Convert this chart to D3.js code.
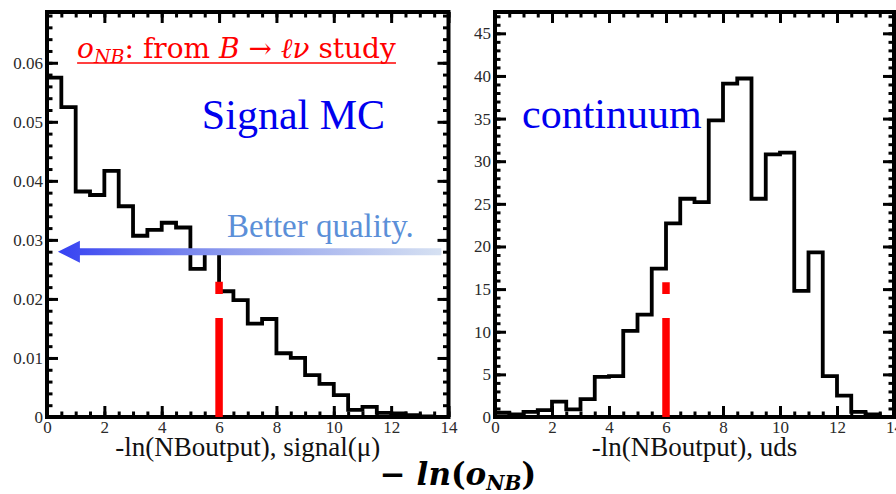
<!DOCTYPE html>
<html>
<head>
<meta charset="utf-8">
<script src="https://cdn.jsdelivr.net/npm/d3@7"></script>
<style>
  html, body { margin: 0; padding: 0; background: #fff; }
  svg { display: block; }
  text { font-family: "Liberation Serif", "Times New Roman", serif; }
</style>
</head>
<body>
<svg id="chart" width="896" height="494"></svg>
<script>
// -ln(NB output) histograms, 28 bins of width 0.5 over [0, 14]
const binWidth = 0.5;
const xRange = [0, 14];

// signal(mu) MC, normalised
const signalValues = [
  0.0575, 0.0525, 0.0382, 0.0376, 0.0417, 0.0357, 0.0307, 0.0317,
  0.0329, 0.0321, 0.0251, 0.0280, 0.0213, 0.0198, 0.0158, 0.0166,
  0.0108, 0.0100, 0.0071, 0.0056, 0.0037, 0.0012, 0.0017, 0.0007,
  0.0006, 0.0003, 0.0001, 0.0000
];

// continuum (uds) entries
const continuumValues = [
  0.5, 0.3, 0.6, 0.8, 1.8, 0.9, 2.1, 4.7,
  4.8, 10.1, 12.0, 17.4, 22.7, 25.6, 25.2, 34.8,
  39.1, 39.7, 25.6, 30.8, 31.0, 14.8, 19.3, 4.8,
  2.5, 0.6, 0.3, 0.0
];

const xMajorTicks = [0, 2, 4, 6, 8, 10, 12, 14];
const signalYTicks = [0, 0.01, 0.02, 0.03, 0.04, 0.05, 0.06];
const continuumYTicks = [0, 5, 10, 15, 20, 25, 30, 35, 40, 45];

const signalYMax = 0.0686;
const continuumYMax = 47.5;

// selection cut at -ln(o_NB) = 6, drawn as a dashed red marker
const cutValue = 6;
const signalCutTop = 0.0229;
const continuumCutTop = 15.8;

const svg = d3.select("#chart");

// gradient for the "better quality" arrow
const defs = svg.append("defs");
const grad = defs.append("linearGradient")
  .attr("id", "arrowGrad").attr("x1", "0%").attr("x2", "100%");
grad.append("stop").attr("offset", "0%").attr("stop-color", "#3641f2");
grad.append("stop").attr("offset", "45%").attr("stop-color", "#8f9ded");
grad.append("stop").attr("offset", "100%").attr("stop-color", "#d6e1f2");

function styleTicks(sel) {
  sel.select(".domain").remove();
  sel.selectAll("line").attr("stroke", "#000").attr("stroke-width", 3);
}

function drawPanel(opts) {
  const x = d3.scaleLinear().domain(xRange).range([opts.left, opts.right]);
  const y = d3.scaleLinear().domain([0, opts.yMax]).range([opts.bottom, opts.top]);
  const g = svg.append("g");

  const minorX = d3.range(xRange[0], xRange[1] + 1e-9, binWidth);
  const minorY = d3.range(0, opts.yMax, opts.yMinor);

  // ticks on all four sides, pointing inward
  const sides = [
    { make: () => d3.axisBottom(x), tr: `translate(0,${opts.bottom})`, minor: minorX, major: xMajorTicks, fmt: d3.format("d") },
    { make: () => d3.axisTop(x), tr: `translate(0,${opts.top})`, minor: minorX, major: xMajorTicks, fmt: null },
    { make: () => d3.axisLeft(y), tr: `translate(${opts.left},0)`, minor: minorY, major: opts.yTicks, fmt: opts.yFmt },
    { make: () => d3.axisRight(y), tr: `translate(${opts.right},0)`, minor: minorY, major: opts.yTicks, fmt: null }
  ];

  sides.forEach(s => {
    const gm = g.append("g").attr("transform", s.tr)
      .call(s.make().tickValues(s.minor).tickSizeInner(-5.5).tickSizeOuter(0));
    gm.selectAll("text").remove();
    styleTicks(gm);

    const ga = g.append("g").attr("transform", s.tr)
      .call(s.make().tickValues(s.major).tickSizeInner(-11).tickSizeOuter(0).tickPadding(4)
        .tickFormat(s.fmt || (() => "")));
    ga.attr("font-family", '"Liberation Serif", serif').attr("font-size", 17);
    if (!s.fmt) ga.selectAll("text").remove();
    styleTicks(ga);
    ga.selectAll("text").attr("fill", "#2a2a2a");
  });

  // histogram outline
  const pts = [[xRange[0], 0]];
  opts.values.forEach((v, i) => {
    pts.push([i * binWidth, v]);
    pts.push([(i + 1) * binWidth, v]);
  });
  pts.push([xRange[1], 0]);
  g.append("path")
    .datum(pts)
    .attr("d", d3.line().x(d => x(d[0])).y(d => y(d[1])))
    .attr("fill", "none")
    .attr("stroke", "#000")
    .attr("stroke-width", 3.8)
    .attr("stroke-linejoin", "miter");

  // frame
  g.append("rect")
    .attr("x", opts.left).attr("y", opts.top)
    .attr("width", opts.right - opts.left).attr("height", opts.bottom - opts.top)
    .attr("fill", "none").attr("stroke", "#000").attr("stroke-width", 4);

  // cut marker
  g.append("line")
    .attr("x1", x(cutValue)).attr("x2", x(cutValue))
    .attr("y1", y(0)).attr("y2", y(opts.cutTop))
    .attr("stroke", "#ff0000").attr("stroke-width", 7.5)
    .attr("stroke-dasharray", "99,24");

  // x-axis title
  g.append("text")
    .attr("x", x(7)).attr("y", opts.bottom + 39)
    .attr("text-anchor", "middle")
    .style("font-size", "27px").attr("fill", "#111")
    .text(opts.xTitle);

  return { x, y, g };
}

const left = drawPanel({
  left: 47, right: 448.5, top: 12, bottom: 417,
  yMax: signalYMax, yMinor: 0.002, yTicks: signalYTicks,
  yFmt: d => d === 0 ? "0" : d3.format(".2f")(d),
  values: signalValues, cutTop: signalCutTop,
  xTitle: "-ln(NBoutput), signal(\u03bc)"
});

const right = drawPanel({
  left: 495, right: 894, top: 12, bottom: 417,
  yMax: continuumYMax, yMinor: 1, yTicks: continuumYTicks,
  yFmt: d3.format("d"),
  values: continuumValues, cutTop: continuumCutTop,
  xTitle: "-ln(NBoutput), uds"
});

// ---- annotations, left panel ----
const lx = left.x, ly = left.y;

// o_NB : from B -> l nu study
const titleY = ly(0.0608);
const title = svg.append("text")
  .attr("x", lx(1.05)).attr("y", titleY)
  .attr("fill", "#ff0000")
  .style("font-family", '"DejaVu Serif", serif')
  .style("font-size", "28px");
title.append("tspan").style("font-style", "italic").text("o");
title.append("tspan").style("font-style", "italic").style("font-size", "19px").attr("dy", 5).text("NB");
title.append("tspan").attr("dy", -5).text(": from ");
title.append("tspan").style("font-style", "italic").text("B");
title.append("tspan").text(" \u2192 ");
title.append("tspan").style("font-style", "italic").text("\u2113\u03bd");
title.append("tspan").text(" study");
const tb = title.node().getBBox();
svg.append("line")
  .attr("x1", tb.x).attr("x2", tb.x + tb.width)
  .attr("y1", titleY + 5).attr("y2", titleY + 5)
  .attr("stroke", "#ff0000").attr("stroke-width", 1.6);

svg.append("text")
  .attr("x", lx(5.4)).attr("y", ly(0.0488))
  .attr("fill", "#0000ee").style("font-size", "42px")
  .text("Signal MC");

svg.append("text")
  .attr("x", lx(6.28)).attr("y", ly(0.0305))
  .attr("fill", "#5b8fd8").style("font-size", "33px")
  .text("Better quality.");

// arrow pointing to lower -ln(o_NB)
const arrowY = ly(0.0280);
const tipX = lx(0.38), tailX = lx(13.75), headLen = 22, headHalf = 11, shaft = 3.5;
svg.append("path")
  .attr("d", `M${tipX},${arrowY} L${tipX + headLen},${arrowY - headHalf} L${tipX + headLen},${arrowY - shaft}
              L${tailX},${arrowY - shaft} L${tailX},${arrowY + shaft} L${tipX + headLen},${arrowY + shaft}
              L${tipX + headLen},${arrowY + headHalf} Z`)
  .attr("fill", "url(#arrowGrad)");

// ---- annotations, right panel ----
svg.append("text")
  .attr("x", right.x(0.95)).attr("y", right.y(33.9))
  .attr("fill", "#0000ee").style("font-size", "42px")
  .text("continuum");

// common variable label
const bottom = svg.append("text")
  .attr("x", 458).attr("y", 485)
  .attr("text-anchor", "middle")
  .attr("fill", "#000")
  .style("font-family", '"DejaVu Serif", serif')
  .style("font-size", "31px").style("font-weight", "bold");
bottom.append("tspan").text("\u2212 ");
bottom.append("tspan").style("font-style", "italic").text("ln");
bottom.append("tspan").text("(");
bottom.append("tspan").style("font-style", "italic").text("o");
bottom.append("tspan").style("font-style", "italic").style("font-size", "20px").attr("dy", 5).text("NB");
bottom.append("tspan").attr("dy", -5).text(")");
</script>
</body>
</html>
